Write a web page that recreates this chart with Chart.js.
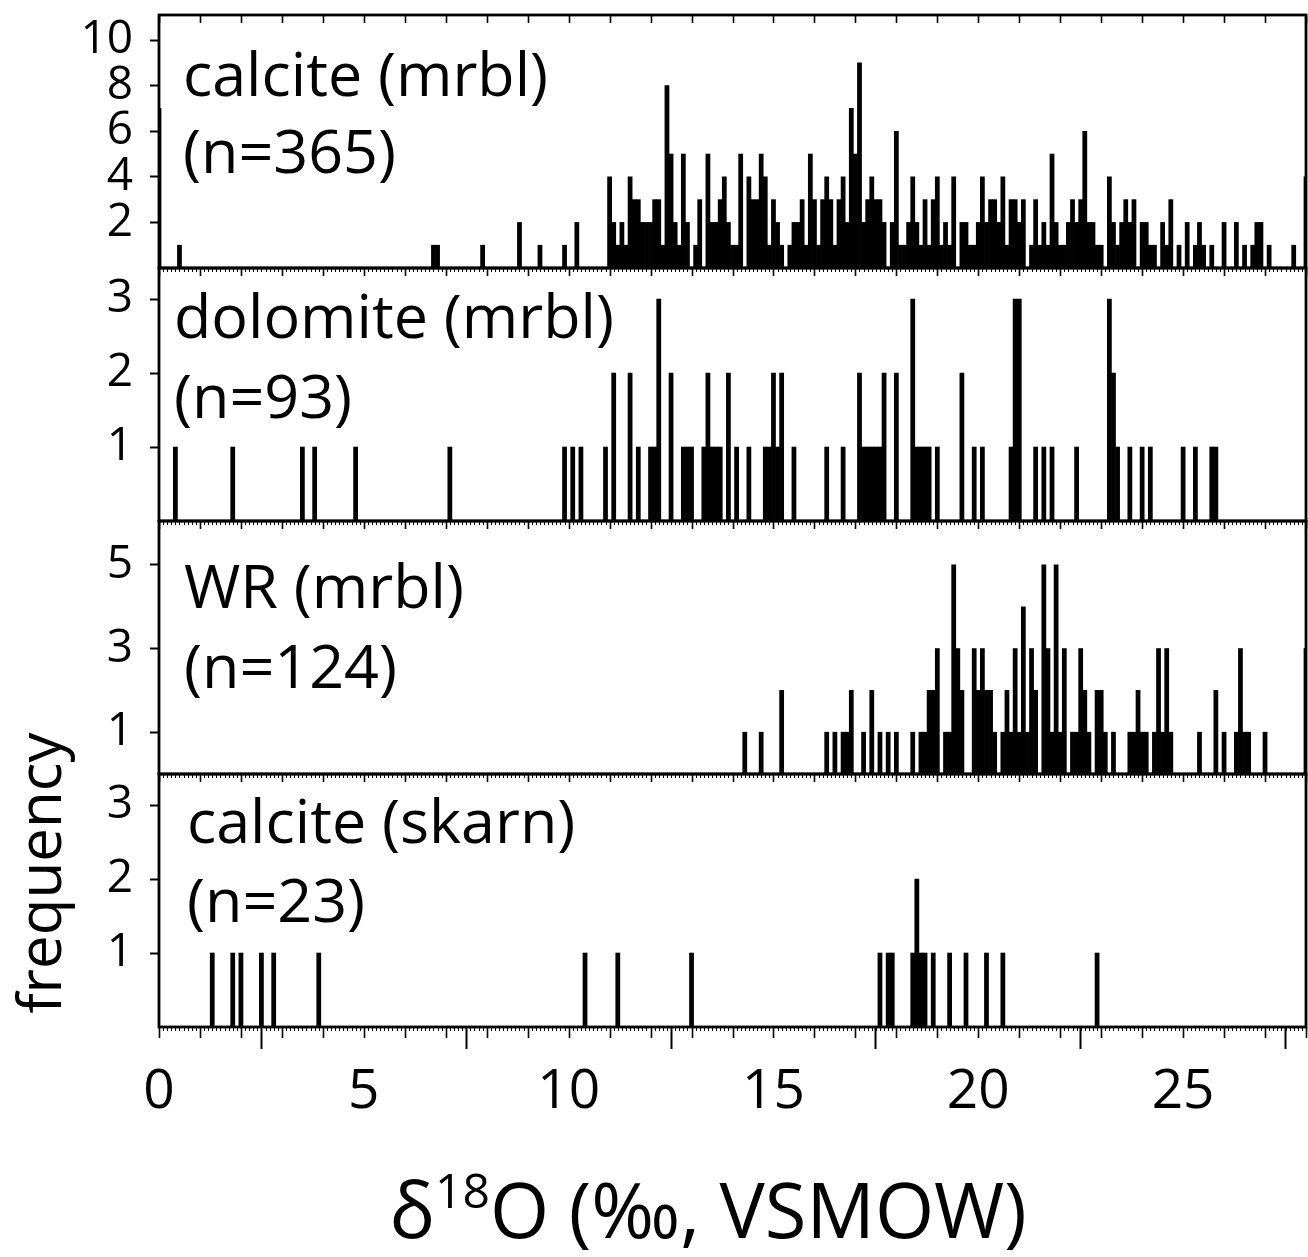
<!DOCTYPE html>
<html>
<head>
<meta charset="utf-8">
<script src="https://cdn.jsdelivr.net/npm/chart.js@4.4.1/dist/chart.umd.min.js"></script>
<style>
  html, body { margin: 0; padding: 0; background: #ffffff; }
  #wrap { position: relative; width: 1308px; height: 1257px; }
  canvas { display: block; }
</style>
</head>
<body>
<div id="wrap"><canvas id="chart" width="1308" height="1257"></canvas></div>
<script>
// ---------------- data ----------------
const xTickValues = [0, 5, 10, 15, 20, 25];
const xMin = 0;
const xMax = 28;

const panelNames = ['calcite (mrbl)', 'dolomite (mrbl)', 'WR (mrbl)', 'calcite (skarn)'];
const panelSizes = ['(n=365)', '(n=93)', '(n=124)', '(n=23)'];

const yTicksCalciteMrbl = [2, 4, 6, 8, 10];
const yTicksDolomite = [1, 2, 3];
const yTicksWR = [1, 3, 5];
const yTicksSkarn = [1, 2, 3];

const yMaxCalciteMrbl = 11.1;
const yMaxDolomite = 3.42;
const yMaxWR = 6.05;
const yMaxSkarn = 3.42;

// bin centres (δ18O, ‰) and frequencies
const calciteMrblBins = [
  0.0, 0.5, 6.7, 6.8, 7.9, 8.8, 9.3, 9.9, 10.2,
  11.0, 11.1, 11.2, 11.3, 11.4, 11.5, 11.6, 11.7, 11.8, 11.9,
  12.0, 12.1, 12.2, 12.3, 12.4, 12.5, 12.6, 12.7, 12.8, 12.9,
  13.1, 13.2, 13.4, 13.5, 13.6, 13.7, 13.8, 13.9,
  14.0, 14.1, 14.2, 14.4, 14.5, 14.6, 14.7, 14.8, 14.9,
  15.0, 15.1, 15.2, 15.4, 15.5, 15.6, 15.7, 15.8, 15.9,
  16.0, 16.1, 16.2, 16.3, 16.4, 16.5, 16.6, 16.7, 16.8, 16.9,
  17.0, 17.1, 17.2, 17.3, 17.4, 17.5, 17.6, 17.7, 17.9,
  18.0, 18.1, 18.2, 18.3, 18.4, 18.5, 18.6, 18.7, 18.8, 18.9,
  19.0, 19.1, 19.2, 19.3, 19.4, 19.6, 19.7, 19.8, 19.9,
  20.0, 20.1, 20.2, 20.3, 20.4, 20.5, 20.6, 20.7, 20.8, 20.9,
  21.0, 21.1, 21.3, 21.4, 21.5, 21.6, 21.7, 21.8, 21.9,
  22.0, 22.1, 22.2, 22.3, 22.4, 22.5, 22.6, 22.7, 22.8, 22.9,
  23.0, 23.2, 23.3, 23.4, 23.5, 23.6, 23.7, 23.8,
  24.0, 24.1, 24.2, 24.3, 24.5, 24.6, 24.7, 24.9,
  25.1, 25.3, 25.4, 25.5, 25.7,
  26.0, 26.3, 26.5, 26.7, 26.8, 26.9, 27.1, 27.7, 28.0
];
const calciteMrblFreq = [
  7, 1, 1, 1, 1, 2, 1, 1, 2,
  4, 2, 1, 2, 1, 4, 3, 3, 2, 2,
  2, 3, 3, 1, 8, 5, 2, 1, 5, 2,
  1, 3, 5, 2, 2, 3, 4, 2,
  1, 1, 5, 4, 3, 3, 5, 4, 1,
  3, 2, 1, 1, 2, 2, 3, 1, 5,
  3, 1, 3, 4, 3, 1, 3, 4, 2, 7,
  5, 9, 2, 3, 4, 3, 3, 2, 2,
  6, 1, 1, 2, 4, 2, 1, 3, 1, 3,
  4, 1, 2, 1, 4, 2, 2, 1, 1,
  2, 4, 2, 3, 3, 2, 4, 1, 3, 3,
  2, 3, 1, 3, 1, 2, 1, 5, 2,
  1, 1, 2, 3, 2, 3, 6, 2, 2, 1,
  1, 4, 2, 1, 2, 3, 2, 3,
  2, 2, 1, 1, 2, 1, 3, 1,
  2, 1, 2, 1, 1,
  2, 2, 1, 1, 2, 2, 1, 1, 4
];

const dolomiteBins = [
  0.4, 1.8, 3.5, 3.8, 4.8, 7.1, 9.9, 10.1, 10.3, 10.9,
  11.1, 11.5, 11.7, 12.0, 12.1, 12.2, 12.5, 12.8, 12.9, 13.0,
  13.3, 13.4, 13.5, 13.6, 13.7, 13.9, 14.1, 14.4, 14.8, 14.9,
  15.0, 15.1, 15.2, 15.5, 16.3, 16.7, 17.1, 17.2, 17.3, 17.4,
  17.5, 17.6, 17.7, 18.0, 18.4, 18.5, 18.6, 18.7, 18.8, 19.0,
  19.6, 19.9, 20.1, 20.8, 20.9, 21.0, 21.4, 21.6, 21.8, 22.4,
  23.2, 23.3, 23.4, 23.7, 24.0, 24.2, 25.0, 25.3, 25.7, 25.8
];
const dolomiteFreq = [
  1, 1, 1, 1, 1, 1, 1, 1, 1, 1,
  2, 2, 1, 1, 1, 3, 2, 1, 1, 1,
  1, 2, 1, 1, 1, 2, 1, 1, 1, 1,
  2, 1, 2, 1, 1, 1, 2, 1, 1, 1,
  1, 1, 2, 2, 3, 1, 1, 1, 1, 1,
  2, 1, 1, 1, 3, 3, 1, 1, 1, 1,
  3, 2, 1, 1, 1, 1, 1, 1, 1, 1
];

const wrBins = [
  14.3, 14.7, 15.2, 16.3, 16.5, 16.7, 16.8, 16.9,
  17.2, 17.4, 17.6, 17.8, 18.0, 18.4, 18.6, 18.7, 18.8, 18.9, 19.0,
  19.2, 19.3, 19.4, 19.5, 19.6, 19.9, 20.0, 20.1, 20.2, 20.3, 20.4,
  20.6, 20.7, 20.8, 20.9, 21.0, 21.1, 21.2, 21.3, 21.4,
  21.6, 21.7, 21.8, 21.9, 22.0, 22.1, 22.3, 22.4, 22.5, 22.6, 22.7,
  22.9, 23.0, 23.1, 23.3, 23.7, 23.8, 23.9, 24.0, 24.1,
  24.3, 24.4, 24.5, 24.6, 24.7, 25.4, 25.8, 26.0,
  26.3, 26.4, 26.5, 26.6, 27.0, 28.0
];
const wrFreq = [
  1, 1, 2, 1, 1, 1, 1, 2,
  1, 2, 1, 1, 1, 1, 1, 1, 2, 2, 3,
  1, 1, 5, 3, 2, 3, 2, 3, 2, 2, 1,
  1, 2, 1, 3, 1, 4, 1, 3, 2,
  5, 3, 1, 5, 1, 3, 1, 1, 3, 2, 1,
  2, 2, 1, 1, 1, 1, 2, 1, 1,
  1, 3, 1, 3, 1, 1, 2, 1,
  1, 3, 1, 1, 1, 3
];

const skarnBins = [
  1.3, 1.8, 2.0, 2.5, 2.8, 3.9, 10.4, 11.2, 13.0,
  17.6, 17.8, 17.9, 18.4, 18.5, 18.6, 18.7, 18.9, 19.3, 19.7, 20.2, 20.6, 22.9
];
const skarnFreq = [
  1, 1, 1, 1, 1, 1, 1, 1, 1,
  1, 1, 1, 1, 2, 1, 1, 1, 1, 1, 1, 1, 1
];

// ---------------- styling ----------------
const FONT = '"Open Sans", "Noto Sans", sans-serif';
const INK = '#000000';

function toPoints(bins, freq) {
  return bins.map((b, i) => ({ x: b, y: freq[i] }));
}

function yAxis(max, ticks) {
  return {
    type: 'linear',
    position: 'left',
    stack: 'panels',
    stackWeight: 1,
    min: 0,
    max: max,
    afterBuildTicks: (axis) => { axis.ticks = ticks.map(v => ({ value: v })); },
    afterFit: (axis) => {
      axis.width = 159;
      axis.paddingTop = 0;
      axis.paddingBottom = 0;
    },
    ticks: {
      color: INK,
      font: { family: FONT, size: 46 },
      padding: 17,
      autoSkip: false
    },
    grid: {
      drawOnChartArea: false,
      drawTicks: true,
      tickLength: 9,
      tickWidth: 2,
      tickColor: INK
    },
    border: { display: false }
  };
}

const panelAxes = ['y1', 'y2', 'y3', 'y4'];

// label layout: offsets from panel top-left
const labelLayout = [
  { dx: 24, line1: 81, line2: 158 },
  { dx: 15, line1: 70, line2: 150 },
  { dx: 25, line1: 87, line2: 167 },
  { dx: 28, line1: 69, line2: 148 }
];

const panelPlugin = {
  id: 'panelFrames',
  afterDatasetsDraw(chart) {
    const ctx = chart.ctx;
    const xs = chart.scales.x;
    ctx.save();
    ctx.strokeStyle = INK;
    ctx.fillStyle = INK;

    panelAxes.forEach((id, i) => {
      const ys = chart.scales[id];
      // inward ticks at each whole unit on the top edge
      ctx.lineWidth = 1.6;
      ctx.beginPath();
      for (let v = Math.ceil(xs.min); v <= xs.max; v++) {
        const px = Math.round(xs.getPixelForValue(v)) + 0.5;
        ctx.moveTo(px, ys.top);
        ctx.lineTo(px, ys.top + 8);
      }
      ctx.stroke();
      // fine ticks every 0.1 under the lower edge
      ctx.lineWidth = 1;
      ctx.beginPath();
      for (let k = Math.ceil(xs.min * 10); k <= xs.max * 10; k++) {
        const px = Math.round(xs.getPixelForValue(k / 10)) + 0.5;
        ctx.moveTo(px, ys.bottom);
        ctx.lineTo(px, ys.bottom + 4);
      }
      ctx.stroke();
      // frame
      ctx.lineWidth = 2.8;
      ctx.strokeRect(xs.left, ys.top, xs.right - xs.left, ys.bottom - ys.top);

      // panel text
      const lay = labelLayout[i];
      ctx.font = '61px ' + FONT;
      ctx.textAlign = 'left';
      ctx.textBaseline = 'alphabetic';
      ctx.fillText(panelNames[i], xs.left + lay.dx, ys.top + lay.line1);
      ctx.fillText(panelSizes[i], xs.left + lay.dx, ys.top + lay.line2);
    });

    // whole-unit outward ticks on the bottom axis
    const bottom = chart.scales[panelAxes[panelAxes.length - 1]].bottom;
    ctx.lineWidth = 1.6;
    ctx.beginPath();
    for (let v = Math.ceil(xs.min); v <= xs.max; v++) {
      const px = Math.round(xs.getPixelForValue(v)) + 0.5;
      ctx.moveTo(px, bottom);
      ctx.lineTo(px, bottom + 11);
    }
    ctx.stroke();

    // y axis title
    ctx.save();
    ctx.translate(44, 873);
    ctx.rotate(-Math.PI / 2);
    ctx.font = '60px ' + FONT;
    ctx.textAlign = 'center';
    ctx.textBaseline = 'middle';
    ctx.fillText('frequency', 0, 0);
    ctx.restore();

    // x axis title with superscript
    const big = '76px ' + FONT;
    const small = '48px ' + FONT;
    ctx.font = big;
    const wD = ctx.measureText('δ').width;
    const wRest = ctx.measureText('O (‰, VSMOW)').width;
    ctx.font = small;
    const wSup = ctx.measureText('18').width;
    const total = wD + wSup + wRest;
    const tx = 708 - total / 2;
    const base = 1238;
    ctx.textAlign = 'left';
    ctx.textBaseline = 'alphabetic';
    ctx.font = big;
    ctx.fillText('δ', tx, base);
    ctx.font = small;
    ctx.fillText('18', tx + wD, base - 30);
    ctx.font = big;
    ctx.fillText('O (‰, VSMOW)', tx + wD + wSup, base);

    ctx.restore();
  }
};

const barStyle = {
  type: 'bar',
  backgroundColor: INK,
  borderWidth: 0,
  barThickness: 4.1,
  grouped: false,
  xAxisID: 'x'
};

new Chart(document.getElementById('chart'), {
  type: 'bar',
  data: {
    datasets: [
      Object.assign({ label: panelNames[0], yAxisID: 'y1', data: toPoints(calciteMrblBins, calciteMrblFreq) }, barStyle),
      Object.assign({ label: panelNames[1], yAxisID: 'y2', data: toPoints(dolomiteBins, dolomiteFreq) }, barStyle),
      Object.assign({ label: panelNames[2], yAxisID: 'y3', data: toPoints(wrBins, wrFreq) }, barStyle),
      Object.assign({ label: panelNames[3], yAxisID: 'y4', data: toPoints(skarnBins, skarnFreq) }, barStyle)
    ]
  },
  options: {
    responsive: false,
    animation: false,
    devicePixelRatio: 1,
    layout: { padding: { top: 15, right: 2, left: 0, bottom: 0 } },
    plugins: {
      legend: { display: false },
      tooltip: { enabled: false },
      title: { display: false }
    },
    scales: {
      x: {
        type: 'linear',
        position: 'bottom',
        min: xMin,
        max: xMax,
        offset: false,
        afterBuildTicks: (axis) => { axis.ticks = xTickValues.map(v => ({ value: v })); },
        afterFit: (axis) => { axis.height = 230; },
        ticks: {
          color: INK,
          font: { family: FONT, size: 55 },
          padding: 10,
          autoSkip: false,
          maxRotation: 0
        },
        grid: {
          drawOnChartArea: false,
          drawTicks: true,
          tickLength: 22,
          tickWidth: 2,
          tickColor: INK
        },
        border: { display: false }
      },
      y4: yAxis(yMaxSkarn, yTicksSkarn),
      y3: yAxis(yMaxWR, yTicksWR),
      y2: yAxis(yMaxDolomite, yTicksDolomite),
      y1: yAxis(yMaxCalciteMrbl, yTicksCalciteMrbl)
    }
  },
  plugins: [panelPlugin]
});
</script>
</body>
</html>
